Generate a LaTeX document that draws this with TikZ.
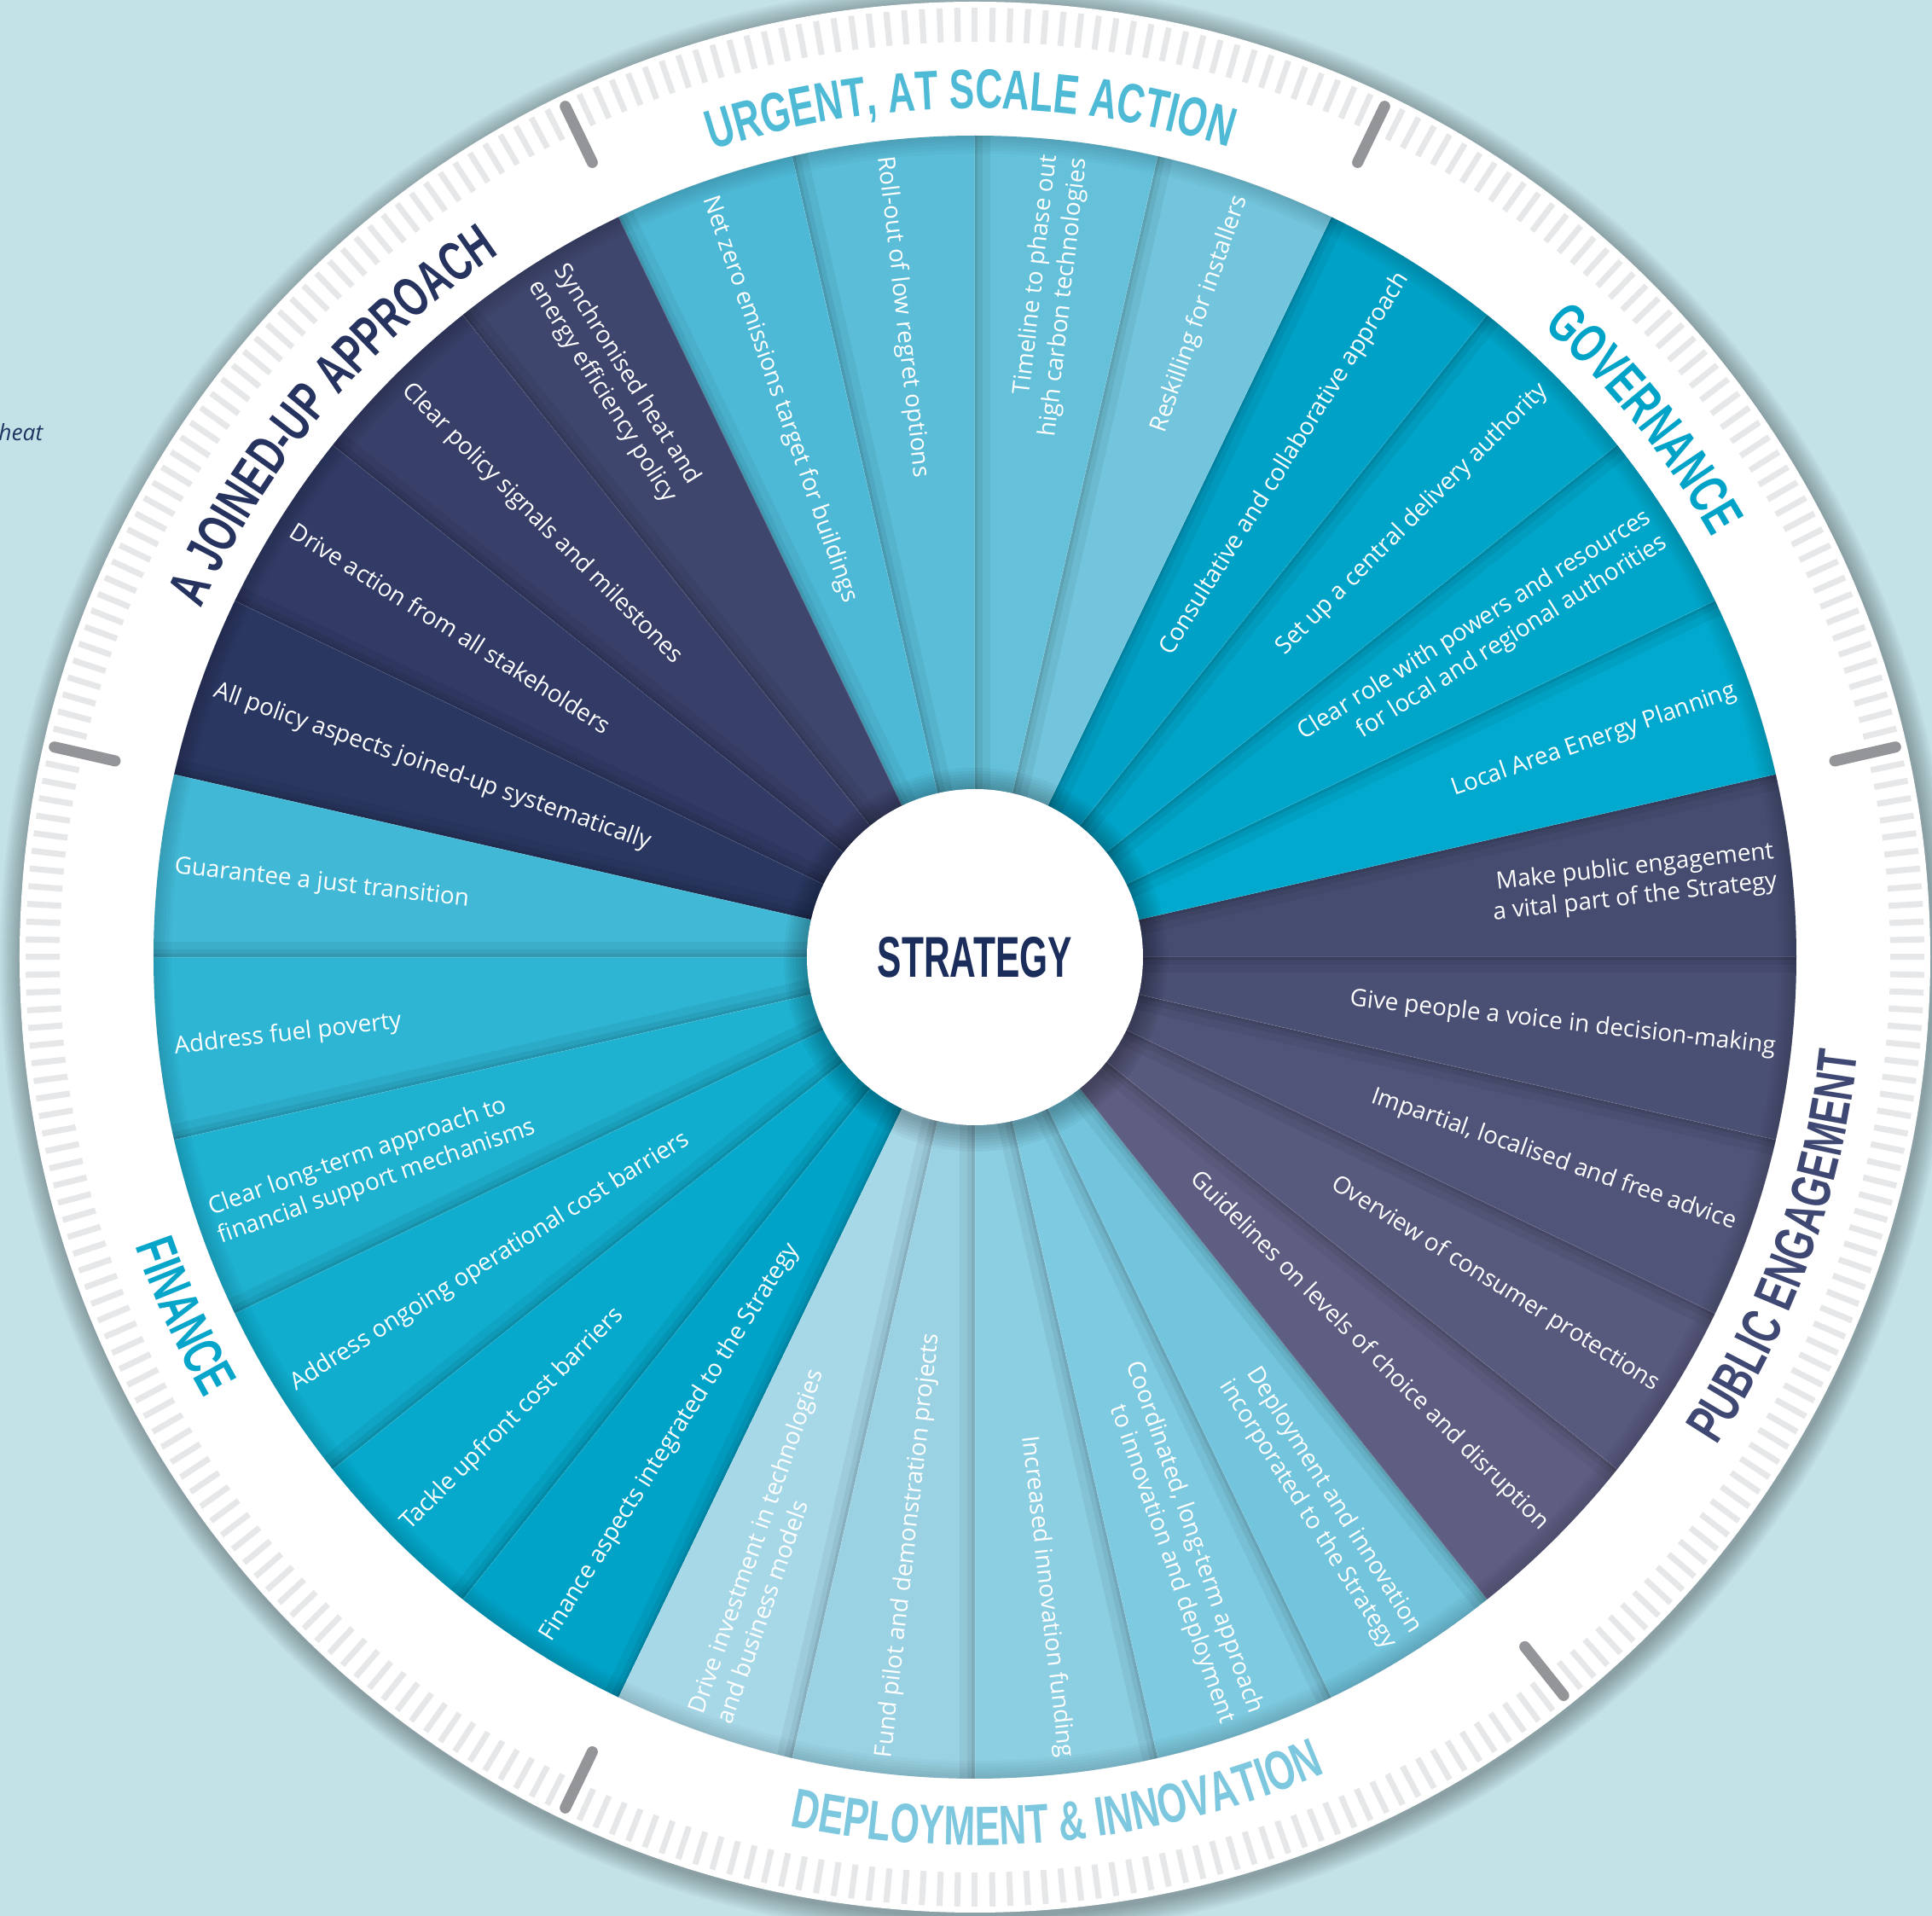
\documentclass[tikz,border=0pt]{standalone}
\usepackage{fontspec}
\usetikzlibrary{decorations.text}
\newfontfamily\lblfam{Open Sans}
\newfontfamily\headfam[FakeStretch=0.68]{Liberation Sans}
\newfontfamily\stratfam[FakeStretch=0.63]{Liberation Sans}
\newcommand\hfont{\headfam\bfseries\fontsize{18.5pt}{20pt}\selectfont}

\definecolor{bg}{RGB}{195,226,232}
\definecolor{tickc}{HTML}{E6E7E8}
\definecolor{sepc}{HTML}{939598}
\definecolor{heatc}{HTML}{1F3461}
\definecolor{stratc}{HTML}{1B2D5B}
\definecolor{hUrg}{HTML}{4FBAD6}
\definecolor{hGov}{HTML}{00A3C8}
\definecolor{hJoin}{HTML}{26335F}
\definecolor{hPub}{HTML}{3F4872}
\definecolor{hDep}{HTML}{7DC8DF}
\definecolor{hFin}{HTML}{08A5CA}
\definecolor{w0}{HTML}{454C70}
\definecolor{w1}{HTML}{00A9CD}
\definecolor{w2}{HTML}{00A6CA}
\definecolor{w3}{HTML}{00A4C8}
\definecolor{w4}{HTML}{00A1C6}
\definecolor{w5}{HTML}{72C5DC}
\definecolor{w6}{HTML}{65C1DA}
\definecolor{w7}{HTML}{5BBDD8}
\definecolor{w8}{HTML}{4EB9D6}
\definecolor{w9}{HTML}{3F466D}
\definecolor{w10}{HTML}{383F68}
\definecolor{w11}{HTML}{313B65}
\definecolor{w12}{HTML}{2A3761}
\definecolor{w13}{HTML}{41B8D5}
\definecolor{w14}{HTML}{2EB5D3}
\definecolor{w15}{HTML}{1EB1D0}
\definecolor{w16}{HTML}{10ADCE}
\definecolor{w17}{HTML}{06A8CB}
\definecolor{w18}{HTML}{00A3C8}
\definecolor{w19}{HTML}{A7D8E8}
\definecolor{w20}{HTML}{9AD2E4}
\definecolor{w21}{HTML}{8CCEE2}
\definecolor{w22}{HTML}{7ECAE0}
\definecolor{w23}{HTML}{72C5DD}
\definecolor{w24}{HTML}{5E5E82}
\definecolor{w25}{HTML}{57597D}
\definecolor{w26}{HTML}{505478}
\definecolor{w27}{HTML}{4A4F74}

\tikzset{
  lbl/.style={text=white, inner sep=0pt, font=\lblfam\fontsize{7.95pt}{10pt}\selectfont},
  lblR/.style={lbl, anchor=east, align=right},
  lblL/.style={lbl, anchor=west, align=left},
  tickmark/.style={draw=tickc, line width=0.07cm},
  sepmark/.style={draw=sepc, line width=0.13cm, line cap=round},
}

\begin{document}
\begin{tikzpicture}
\useasboundingbox (-11.43,-11.24) rectangle (11.22,11.22);
\fill[bg] (-11.43,-11.24) rectangle (11.22,11.22);

% outer disc shadow and disc
\foreach \i in {1,...,10} \fill[black, opacity=0.03] (0.02,-0.04) circle ({11.20+\i*0.025});
\fill[white] (0,0) circle (11.20);

\node[font=\lblfam\itshape\fontsize{7.5pt}{9pt}\selectfont, text=heatc, anchor=base east, inner sep=0pt] (heat) at (-10.92,6.05) {heat};

% tick ring
\foreach \i in {0,...,335} \draw[tickmark] ({\i*1.0714286}:10.73) -- ({\i*1.0714286}:11.13);
\foreach \a in {12.857,64.286,115.714,167.143,244.286,308.571} \draw[sepmark] (\a:10.34) -- (\a:11.07);

% wedges
\foreach \k in {0,...,27} {
  \pgfmathsetmacro\a{\k*12.8571429}
  \pgfmathsetmacro\b{(\k+1)*12.8571429}
  \fill[fill=w\k] (0,0) -- (\a:9.63) arc[start angle=\a, end angle=\b, radius=9.63] -- cycle;
  \begin{scope}
    \clip (0,0) -- (\a:9.63) arc[start angle=\a, end angle=\b, radius=9.63] -- cycle;
    \draw[black, opacity=0.05, line width=0.36cm] (0,0) -- (\b:9.8);
    \draw[black, opacity=0.06, line width=0.18cm] (0,0) -- (\b:9.8);
    \draw[black, opacity=0.08, line width=0.07cm] (0,0) -- (\b:9.8);
    \draw[white, opacity=0.12, line width=0.012cm] (0,0) -- (\a:9.8);
  \end{scope}
}
% inner shadow of white ring
\begin{scope}
  \clip (0,0) circle (9.63);
  \foreach \i in {1,...,6} \draw[black, opacity=0.025, line width={\i*0.07cm}] (0,0) circle (9.63);
\end{scope}

% centre
\foreach \i in {1,...,8} \fill[black, opacity=0.035] (0.01,-0.03) circle ({1.97+\i*0.035});
\node[circle, fill=white, minimum size=3.94cm, inner sep=0pt, text=stratc,
      font=\stratfam\bfseries\fontsize{19.2pt}{21pt}\selectfont] (strat) at (0,0) {STRATEGY};

% wedge labels
\node[lblR, rotate=6.43]   (w0)  at (6.43:9.45)   {Make public engagement\\a vital part of the Strategy};
\node[lblR, rotate=19.29]  (w1)  at (19.29:9.45)  {Local Area Energy Planning};
\node[lblR, rotate=32.14]  (w2)  at (32.14:9.45)  {Clear role with powers and resources\\for local and regional authorities};
\node[lblR, rotate=45]     (w3)  at (45:9.45)     {Set up a central delivery authority};
\node[lblR, rotate=57.86]  (w4)  at (57.86:9.45)  {Consultative and collaborative approach};
\node[lblR, rotate=70.71]  (w5)  at (70.71:9.45)  {Reskilling for installers};
\node[lblR, rotate=83.57]  (w6)  at (83.57:9.45)  {Timeline to phase out\\high carbon technologies};
\node[lblL, rotate=-83.57] (w7)  at (96.43:9.45)  {Roll-out of low regret options};
\node[lblL, rotate=-70.71] (w8)  at (109.29:9.45) {Net zero emissions target for buildings};
\node[lblL, rotate=-57.86] (w9)  at (122.14:9.45) {Synchronised heat and\\energy efficiency policy};
\node[lblL, rotate=-45]    (w10) at (135:9.45)    {Clear policy signals and milestones};
\node[lblL, rotate=-32.14] (w11) at (147.86:9.45) {Drive action from all stakeholders};
\node[lblL, rotate=-19.29] (w12) at (160.71:9.45) {All policy aspects joined-up systematically};
\node[lblL, rotate=-6.43]  (w13) at (173.57:9.45) {Guarantee a just transition};
\node[lblL, rotate=6.43]   (w14) at (186.43:9.45) {Address fuel poverty};
\node[lblL, rotate=19.29]  (w15) at (199.29:9.45) {Clear long-term approach to\\financial support mechanisms};
\node[lblL, rotate=32.14]  (w16) at (212.14:9.45) {Address ongoing operational cost barriers};
\node[lblL, rotate=45]     (w17) at (225:9.45)    {Tackle upfront cost barriers};
\node[lblL, rotate=57.86]  (w18) at (237.86:9.45) {Finance aspects integrated to the Strategy};
\node[lblL, rotate=70.71]  (w19) at (250.71:9.45) {Drive investment in technologies\\and business models};
\node[lblL, rotate=83.57]  (w20) at (263.57:9.45) {Fund pilot and demonstration projects};
\node[lblR, rotate=-83.57] (w21) at (276.43:9.45) {Increased innovation funding};
\node[lblR, rotate=-70.71] (w22) at (289.29:9.45) {Coordinated, long-term approach\\to innovation and deployment};
\node[lblR, rotate=-57.86] (w23) at (302.14:9.45) {Deployment and innovation\\incorporated to the Strategy};
\node[lblR, rotate=-45]    (w24) at (315:9.45)    {Guidelines on levels of choice and disruption};
\node[lblR, rotate=-32.14] (w25) at (327.86:9.45) {Overview of consumer protections};
\node[lblR, rotate=-19.29] (w26) at (340.71:9.45) {Impartial, localised and free advice};
\node[lblR, rotate=-6.43]  (w27) at (353.57:9.45) {Give people a voice in decision-making};

% section headings
\path[decorate, decoration={text along path, text={|\hfont|URGENT, AT SCALE ACTION}, text align=center, text color=hUrg}]
  (130.3:9.95) arc[start angle=130.3, end angle=50.3, radius=9.95];
\path[decorate, decoration={text along path, text={|\hfont|GOVERNANCE}, text align=center, text color=hGov}]
  (78.8:9.95) arc[start angle=78.8, end angle=-1.2, radius=9.95];
\path[decorate, decoration={text along path, text={|\hfont|A JOINED-UP APPROACH}, text align=center, text color=hJoin}]
  (179.9:9.95) arc[start angle=179.9, end angle=99.9, radius=9.95];
\path[decorate, decoration={text along path, text={|\hfont|PUBLIC ENGAGEMENT}, text align=center, text color=hPub}]
  (-59.8:10.41) arc[start angle=-59.8, end angle=20.2, radius=10.41];
\path[decorate, decoration={text along path, text={|\hfont|DEPLOYMENT {\&} INNOVATION}, text align=center, text color=hDep}]
  (235.6:10.41) arc[start angle=235.6, end angle=315.6, radius=10.41];
\path[decorate, decoration={text along path, text={|\hfont|FINANCE}, text align=center, text color=hFin}]
  (164.4:10.41) arc[start angle=164.4, end angle=244.4, radius=10.41];
\end{tikzpicture}
\end{document}
